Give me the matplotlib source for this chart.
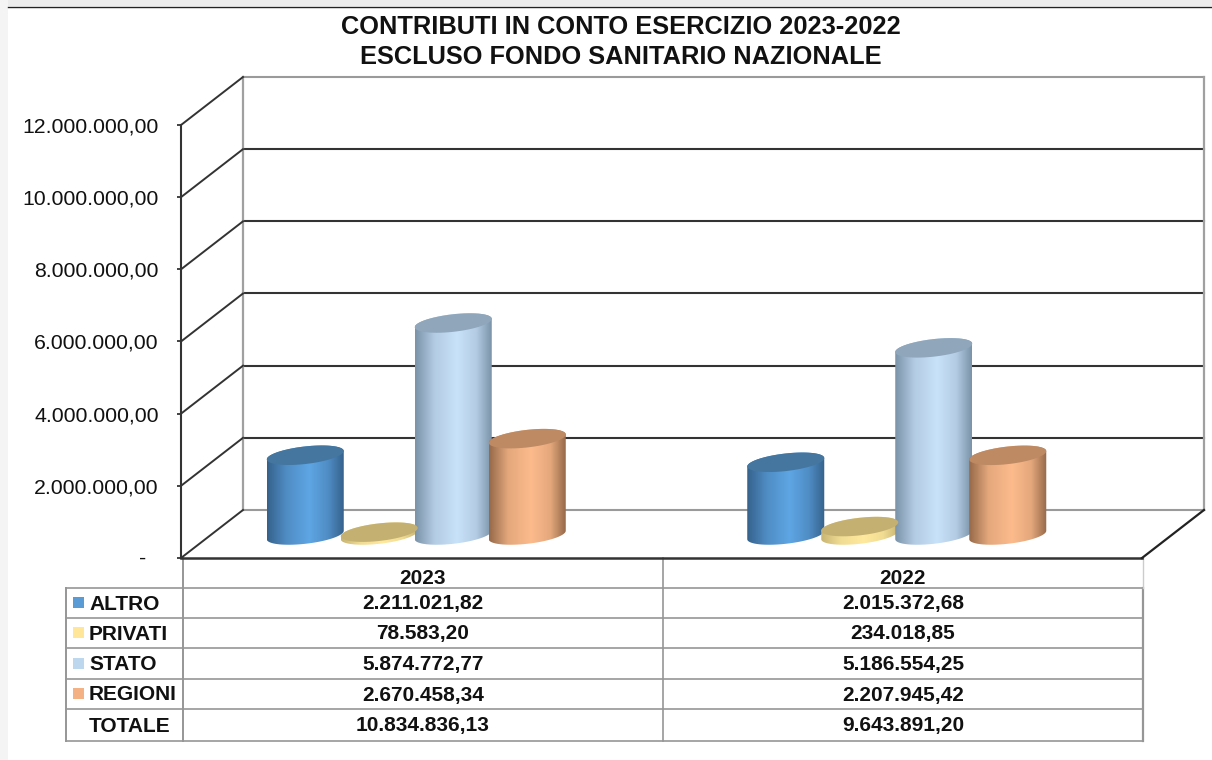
import matplotlib
matplotlib.use("Agg")
import matplotlib.pyplot as plt
import numpy as np
from matplotlib.colors import to_rgb
from matplotlib.patches import PathPatch, Polygon, Rectangle
from matplotlib.path import Path

plt.rcParams["font.family"] = ["Liberation Sans", "DejaVu Sans"]

years = ["2023", "2022"]
altro = [2211021.82, 2015372.68]
privati = [78583.20, 234018.85]
stato = [5874772.77, 5186554.25]
regioni = [2670458.34, 2207945.42]
totale = ["10.834.836,13", "9.643.891,20"]
series_names = ["ALTRO", "PRIVATI", "STATO", "REGIONI"]
y_ticks = [0, 2000000, 4000000, 6000000, 8000000, 10000000, 12000000]

altro_txt = ["2.211.021,82", "2.015.372,68"]
privati_txt = ["78.583,20", "234.018,85"]
stato_txt = ["5.874.772,77", "5.186.554,25"]
regioni_txt = ["2.670.458,34", "2.207.945,42"]

# edge, mid, light colours of the cylinder sides, then top cap and table swatch
styles = {
    "ALTRO": ("#35628c", "#4f8cc4", "#5ea6e4", "#44769f", "#5b9bd5"),
    "PRIVATI": ("#c9b573", "#f0dc92", "#ffe99f", "#c4b070", "#ffe699"),
    "STATO": ("#7b93a8", "#b3cce4", "#c8e2fa", "#8fa6bb", "#bdd7ee"),
    "REGIONI": ("#96694a", "#e4a87c", "#fdbb8c", "#bd8a63", "#f4b183"),
}

W, H = 1212, 760
LEFT, RIGHT, BASE, TOP = 181, 1142, 558, 125
DEPTH_X, DEPTH_Y = 62, 48

fig = plt.figure(figsize=(W / 100, H / 100), dpi=100, facecolor="white")

# overlay in pixels for the page frame and the data table
page = fig.add_axes([0, 0, 1, 1], zorder=0)
page.set_xlim(0, W)
page.set_ylim(H, 0)
page.axis("off")

ax = fig.add_axes([LEFT / W, 1 - BASE / H, (RIGHT - LEFT) / W, (BASE - TOP) / H], zorder=1)
ax.patch.set_visible(False)
ax.set_autoscale_on(False)
ax.set_xlim(0, 2)
ax.set_ylim(0, 12000000)
for s in ax.spines.values():
    s.set_visible(False)

px_x = 2 / (RIGHT - LEFT)
px_y = 12000000 / (BASE - TOP)
dx = DEPTH_X * px_x
dy = DEPTH_Y * px_y


def ellipse(cx, cy, a, start, stop):
    t = np.linspace(start, stop, 60)
    x = cx + a * px_x * np.cos(t)
    y = cy + (8.8 * np.sin(t) + 4.2 * np.cos(t)) * px_y
    return np.column_stack([x, y])


def cylinder(cx, value, colors):
    edge, mid, light, cap, _ = colors
    a = 38.5
    base = 23 * px_y
    bottom = ellipse(cx, base, a, np.pi, 2 * np.pi)
    top = ellipse(cx, base + value, a, 0, np.pi)
    outline = np.vstack([bottom, top, bottom[:1]])
    clip = PathPatch(Path(outline), transform=ax.transData)

    stops = [0, 0.25, 0.55, 0.8, 1]
    rgb = np.array([to_rgb(c) for c in (edge, mid, light, mid, edge)])
    pos = np.linspace(0, 1, 200)
    grad = np.stack([np.interp(pos, stops, rgb[:, i]) for i in range(3)], axis=1)[None, :, :]
    im = ax.imshow(
        grad,
        extent=[cx - a * px_x, cx + a * px_x, base - 14 * px_y, base + value + 14 * px_y],
        aspect="auto",
        zorder=3,
        interpolation="bilinear",
    )
    im.set_clip_path(clip)
    ax.add_patch(
        Polygon(ellipse(cx, base + value, a, 0, 2 * np.pi), facecolor=cap, edgecolor="none",
                zorder=4, clip_on=False)
    )


# back walls and floor
for v in y_ticks:
    col = "#333333" if 0 < v < 12000000 else "#9a9a9a"
    ax.plot([dx, 2 + dx], [v + dy, v + dy], color=col, lw=1.5, clip_on=False, zorder=1)
    ax.plot([0, dx], [v, v + dy], color="#333333", lw=1.4, clip_on=False, zorder=2)
ax.plot([dx, dx], [dy, 12000000 + dy], color="#a0a0a0", lw=1.6, clip_on=False, zorder=1)
ax.plot([2 + dx, 2 + dx], [dy, 12000000 + dy], color="#a0a0a0", lw=1.6, clip_on=False, zorder=1)
ax.plot([0, 0], [0, 12000000], color="#333333", lw=1.5, clip_on=False, zorder=2)
ax.plot([0, 2], [0, 0], color="#333333", lw=1.8, clip_on=False, zorder=2)
ax.plot([2, 2 + dx], [0, dy], color="#222222", lw=1.6, clip_on=False, zorder=2)

# cylinders
all_values = [altro, privati, stato, regioni]
offsets = [-111, -37, 37, 111]
for i, year in enumerate(years):
    centre = i + 0.5 - 5 * px_x
    for name, vals, off in zip(series_names, all_values, offsets):
        cylinder(centre + off * px_x, vals[i], styles[name])

ax.set_xticks([])
ax.set_yticks(y_ticks)
tick_txt = [f"{v:,.2f}".replace(",", "X").replace(".", ",").replace("X", ".") for v in y_ticks]
tick_txt[0] = ""
ax.set_yticklabels(tick_txt, fontsize=15.3, color="#111111")
ax.tick_params(axis="y", length=3, width=1.2, color="#222222", pad=13)
ax.annotate("-", xy=(0, 0), xytext=(-35, 0), textcoords="offset pixels", ha="right",
            va="center", fontsize=15.3, color="#111111")

# titles
page.text(621, 26.5, "CONTRIBUTI IN CONTO ESERCIZIO 2023-2022", ha="center", va="center",
          fontsize=18.3, fontweight="bold", color="#111111")
page.text(621, 56.5, "ESCLUSO FONDO SANITARIO NAZIONALE", ha="center", va="center",
          fontsize=18.3, fontweight="bold", color="#111111")

# page frame at the top and left of the screenshot
page.add_patch(Rectangle((0, 0), W, 6, facecolor="#ececec", edgecolor="none"))
page.add_patch(Rectangle((0, 0), 8, H, facecolor="#f4f4f4", edgecolor="none"))
page.plot([8, W], [7, 7], color="#222222", lw=1.0)

# data table
GRID = "#969696"
rows_y = [588, 618, 648, 679, 709, 741]
for y in rows_y:
    page.plot([66, 1142], [y, y], color=GRID, lw=1.2)
page.plot([66, 66], [rows_y[0], rows_y[-1]], color=GRID, lw=1.4)
page.plot([182.5, 182.5], [BASE, rows_y[-1]], color=GRID, lw=1.4)
page.plot([663, 663], [BASE, rows_y[-1]], color=GRID, lw=1.2)
page.plot([1142.5, 1142.5], [rows_y[0], rows_y[-1]], color=GRID, lw=1.6)
page.plot([1142.5, 1142.5], [BASE, rows_y[0]], color="#cccccc", lw=1.0)

col_x = [423, 903]
for x, year in zip(col_x, years):
    page.text(x, 578, year, ha="center", va="center", fontsize=15, fontweight="bold", color="#111111")

text_rows = [altro_txt, privati_txt, stato_txt, regioni_txt, totale]
labels = series_names + ["TOTALE"]
for r, (label, vals) in enumerate(zip(labels, text_rows)):
    yc = (rows_y[r] + rows_y[r + 1]) / 2 + 1
    page.text(89, yc, label, ha="left", va="center", fontsize=15, fontweight="bold", color="#111111")
    if label in styles:
        page.add_patch(Rectangle((73, yc - 7), 11, 11, facecolor=styles[label][4], edgecolor="none"))
    for x, v in zip(col_x, vals):
        page.text(x, yc, v, ha="center", va="center", fontsize=15, fontweight="bold", color="#111111")

fig.savefig("out.png", dpi=100)
